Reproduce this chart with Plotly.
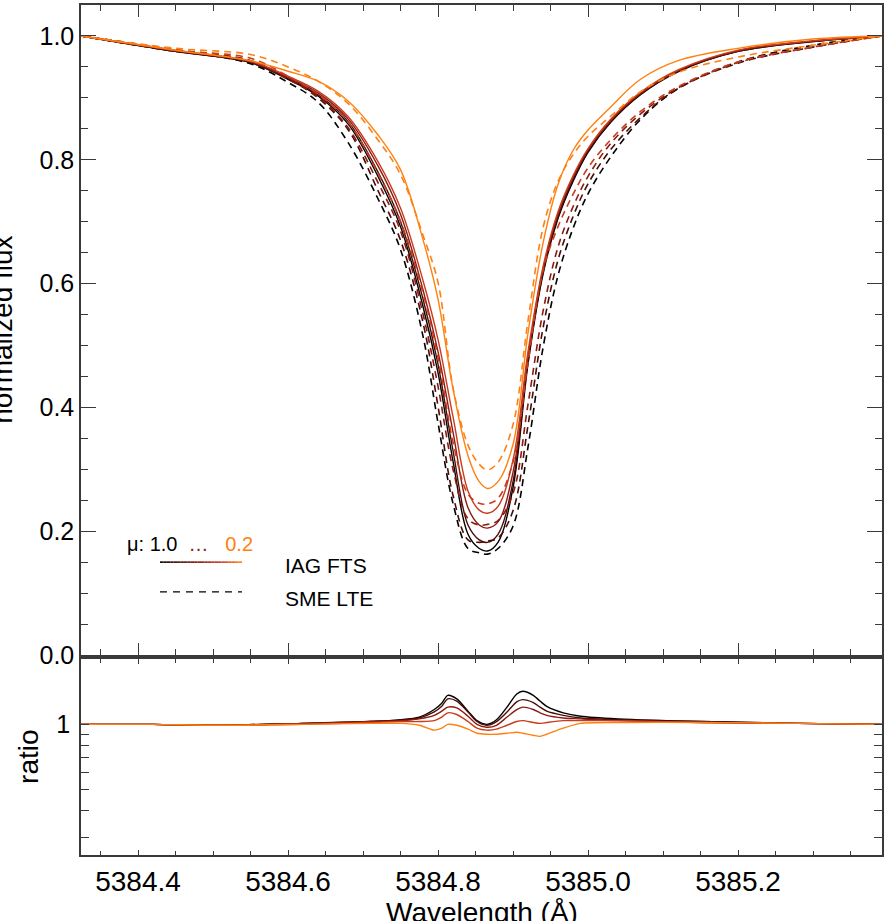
import plotly.graph_objects as go
import math

# ---------------- data ----------------
mu_labels = ["1.0", "0.8", "0.6", "0.4", "0.2"]
mu_colors = ["#000000", "#4c0c08", "#8c1a10", "#c83c1c", "#ff8010"]

wave_flux = [5384.324, 5384.45, 5384.55, 5384.60, 5384.64, 5384.68, 5384.72, 5384.75,
             5384.78, 5384.80, 5384.82, 5384.84, 5384.855, 5384.866, 5384.88, 5384.90,
             5384.92, 5384.94, 5384.96, 5384.98, 5385.00, 5385.03, 5385.07, 5385.12,
             5385.20, 5385.30, 5385.392]

fts_mu10 = [1.000, 0.975, 0.957, 0.930, 0.903, 0.858, 0.773, 0.692, 0.563, 0.456, 0.313, 0.195,
            0.172, 0.168, 0.182, 0.270, 0.470, 0.615, 0.705, 0.765, 0.812, 0.860, 0.905, 0.942,
            0.975, 0.991, 1.000]
fts_mu08 = [1.000, 0.975, 0.957, 0.931, 0.905, 0.862, 0.780, 0.700, 0.575, 0.470, 0.330, 0.210,
            0.186, 0.182, 0.195, 0.280, 0.475, 0.618, 0.708, 0.768, 0.814, 0.861, 0.906, 0.943,
            0.975, 0.991, 1.000]
fts_mu06 = [1.000, 0.976, 0.958, 0.933, 0.908, 0.866, 0.790, 0.712, 0.590, 0.490, 0.360, 0.238,
            0.210, 0.205, 0.215, 0.295, 0.482, 0.622, 0.712, 0.771, 0.816, 0.863, 0.907, 0.944,
            0.976, 0.992, 1.000]
fts_mu04 = [1.000, 0.977, 0.959, 0.935, 0.911, 0.870, 0.797, 0.722, 0.605, 0.510, 0.385, 0.265,
            0.234, 0.229, 0.240, 0.315, 0.490, 0.627, 0.716, 0.774, 0.818, 0.865, 0.909, 0.945,
            0.977, 0.992, 1.000]
fts_mu02 = [1.000, 0.977, 0.960, 0.943, 0.927, 0.895, 0.840, 0.784, 0.671, 0.575, 0.430, 0.322,
            0.280, 0.269, 0.280, 0.340, 0.520, 0.665, 0.760, 0.815, 0.848, 0.885, 0.930, 0.960,
            0.980, 0.995, 1.000]

sme_mu10 = [1.000, 0.977, 0.955, 0.925, 0.893, 0.828, 0.737, 0.655, 0.515, 0.375, 0.245, 0.172,
            0.165, 0.163, 0.172, 0.208, 0.336, 0.496, 0.613, 0.689, 0.745, 0.804, 0.865, 0.915,
            0.958, 0.985, 1.000]
sme_mu08 = [1.000, 0.975, 0.960, 0.931, 0.900, 0.849, 0.750, 0.670, 0.537, 0.402, 0.258, 0.186,
            0.182, 0.184, 0.189, 0.233, 0.371, 0.528, 0.638, 0.708, 0.761, 0.816, 0.868, 0.915,
            0.956, 0.982, 1.000]
sme_mu06 = [1.000, 0.978, 0.960, 0.930, 0.902, 0.852, 0.763, 0.685, 0.551, 0.434, 0.300, 0.220,
            0.210, 0.211, 0.217, 0.261, 0.405, 0.555, 0.659, 0.724, 0.773, 0.826, 0.874, 0.916,
            0.957, 0.982, 1.000]
sme_mu04 = [1.000, 0.977, 0.964, 0.935, 0.906, 0.861, 0.778, 0.701, 0.585, 0.481, 0.344, 0.260,
            0.245, 0.244, 0.253, 0.312, 0.473, 0.621, 0.692, 0.744, 0.787, 0.832, 0.878, 0.918,
            0.958, 0.982, 1.000]
sme_mu02 = [1.000, 0.980, 0.970, 0.950, 0.927, 0.891, 0.832, 0.776, 0.678, 0.602, 0.432, 0.339,
            0.308, 0.299, 0.311, 0.372, 0.540, 0.690, 0.765, 0.808, 0.838, 0.870, 0.910, 0.941,
            0.966, 0.985, 1.000]

wave_ratio = [5384.324, 5384.42, 5384.50, 5384.62, 5384.71, 5384.75, 5384.775, 5384.795,
              5384.805, 5384.813, 5384.825, 5384.84, 5384.852, 5384.865, 5384.878, 5384.892,
              5384.905, 5384.913, 5384.927, 5384.936, 5384.945, 5384.967, 5384.99, 5385.04,
              5385.15, 5385.28, 5385.392]

ratio_mu10 = [1.00, 1.00, 0.99, 1.01, 1.03, 1.05, 1.08, 1.17, 1.25, 1.36, 1.31, 1.15, 1.04, 1.00,
              1.05, 1.20, 1.38, 1.42, 1.36, 1.28, 1.21, 1.13, 1.09, 1.06, 1.03, 1.01, 1.00]
ratio_mu08 = [1.00, 1.00, 0.99, 1.01, 1.03, 1.045, 1.07, 1.14, 1.21, 1.31, 1.28, 1.14, 1.03, 0.99,
              1.03, 1.14, 1.27, 1.30, 1.26, 1.20, 1.15, 1.10, 1.07, 1.05, 1.03, 1.01, 1.00]
ratio_mu06 = [1.00, 1.00, 0.99, 1.01, 1.03, 1.04, 1.06, 1.10, 1.15, 1.20, 1.19, 1.09, 1.00, 0.97,
              0.99, 1.08, 1.17, 1.20, 1.17, 1.13, 1.10, 1.07, 1.06, 1.04, 1.02, 1.01, 1.00]
ratio_mu04 = [1.00, 1.00, 0.99, 1.00, 1.02, 1.03, 1.03, 1.04, 1.08, 1.13, 1.11, 1.03, 0.96, 0.94,
              0.95, 0.99, 1.03, 1.04, 1.02, 1.01, 1.02, 1.04, 1.04, 1.04, 1.02, 1.01, 1.00]
ratio_mu02 = [1.00, 1.00, 0.99, 1.00, 1.01, 1.01, 0.99, 0.94, 0.96, 1.00, 0.99, 0.95, 0.91, 0.90,
              0.90, 0.91, 0.92, 0.91, 0.89, 0.88, 0.90, 0.96, 1.01, 1.02, 1.02, 1.01, 1.00]

fts_all = [fts_mu10, fts_mu08, fts_mu06, fts_mu04, fts_mu02]
sme_all = [sme_mu10, sme_mu08, sme_mu06, sme_mu04, sme_mu02]
ratio_all = [ratio_mu10, ratio_mu08, ratio_mu06, ratio_mu04, ratio_mu02]

x_ticks = [5384.4, 5384.6, 5384.8, 5385.0, 5385.2]
x_tick_text = ["5384.4", "5384.6", "5384.8", "5385.0", "5385.2"]
ratio_tickvals = [0.3, 0.4, 0.5, 0.6, 0.7, 0.8, 0.9, 1.0, 2.0]
ratio_ticktext = ["", "", "", "", "", "", "", "1", ""]

# ---------------- figure ----------------
FONT = "Liberation Sans, Arial, Helvetica, sans-serif"
AX = "#3a3a3a"
fig = go.Figure()

for i in range(5):
    fig.add_trace(go.Scatter(x=wave_flux, y=sme_all[i], mode="lines", xaxis="x", yaxis="y",
                             line=dict(color=mu_colors[i], width=1.6, dash="7px,5px",
                                       shape="spline", smoothing=1.0),
                             showlegend=False, hoverinfo="skip"))
    fig.add_trace(go.Scatter(x=wave_flux, y=fts_all[i], mode="lines", xaxis="x", yaxis="y",
                             line=dict(color=mu_colors[i], width=1.4, shape="spline", smoothing=1.0),
                             showlegend=False, hoverinfo="skip"))

for i in range(5):
    fig.add_trace(go.Scatter(x=wave_ratio, y=ratio_all[i], mode="lines", xaxis="x2", yaxis="y2",
                             line=dict(color=mu_colors[i], width=1.4, shape="spline", smoothing=0.8),
                             showlegend=False, hoverinfo="skip"))

xrange = [5384.324, 5385.392]
common_x = dict(range=xrange, showline=True, linecolor=AX, linewidth=1.5, mirror="ticks",
                showgrid=False, zeroline=False, ticks="inside", tickcolor=AX, tickwidth=1.2,
                tickmode="array", tickvals=x_ticks, ticktext=x_tick_text, automargin=False,
                tickfont=dict(family=FONT, size=28, color="#000"))

fig.update_layout(
    width=886, height=921,
    margin=dict(l=81, r=4, t=5, b=66, autoexpand=False),
    paper_bgcolor="white", plot_bgcolor="white",
    xaxis=dict(common_x, domain=[0, 1], anchor="y", showticklabels=False, ticklen=12,
               minor=dict(dtick=0.05, tick0=5384.4, ticklen=6, ticks="inside", tickcolor=AX,
                          tickwidth=1.2, showgrid=False)),
    yaxis=dict(domain=[0.2353, 1.0], anchor="x", range=[0, 1.05], showline=True, linecolor=AX,
               linewidth=1.5, mirror="ticks", showgrid=False, zeroline=False, ticks="inside",
               tickcolor=AX, tickwidth=1.2, ticklen=15, tick0=0, dtick=0.2, tickformat=".1f",
               automargin=False,
               tickfont=dict(family=FONT, size=25, color="#000"), ticklabelstandoff=0,
               minor=dict(dtick=0.05, tick0=0, ticklen=7, ticks="inside", tickcolor=AX,
                          tickwidth=1.2, showgrid=False)),
    xaxis2=dict(common_x, domain=[0, 1], anchor="y2", showticklabels=True, ticklen=5,
                ticklabelstandoff=1,
                minor=dict(dtick=0.05, tick0=5384.4, ticklen=4, ticks="inside", tickcolor=AX,
                           tickwidth=1.2, showgrid=False)),
    yaxis2=dict(domain=[0, 0.2306], anchor="x2", type="log",
                range=[math.log10(0.25), math.log10(2.0)], showline=True, linecolor=AX,
                linewidth=1.5, mirror="ticks", showgrid=False, zeroline=False, ticks="inside",
                tickcolor=AX, tickwidth=1.2, ticklen=8, tickmode="array",
                tickvals=ratio_tickvals, ticktext=ratio_ticktext, automargin=False,
                tickfont=dict(family=FONT, size=25, color="#000"), ticklabelstandoff=4),
)

# axis titles (partly cut off by the page edge, as in the reference)
fig.add_annotation(text="normalized flux", xref="paper", yref="paper", x=-0.099, y=0.6176,
                   textangle=-90, showarrow=False, xanchor="center", yanchor="middle",
                   font=dict(family=FONT, size=28, color="#000"))
fig.add_annotation(text="ratio", xref="paper", yref="paper", x=-0.065, y=0.1153,
                   textangle=-90, showarrow=False, xanchor="center", yanchor="middle",
                   font=dict(family=FONT, size=28, color="#000"))
fig.add_annotation(text="Wavelength (Å)", xref="paper", yref="paper", x=0.5, y=-0.068,
                   showarrow=False, xanchor="center", yanchor="middle",
                   font=dict(family=FONT, size=28, color="#000"))

# in-plot legend
fig.add_annotation(text=("μ: 1.0  <span style='color:%s'>…</span>   "
                         "<span style='color:%s'>0.2</span>") % (mu_colors[2], mu_colors[4]),
                   xref="x", yref="y", x=5384.383, y=0.179, xanchor="left", yanchor="middle",
                   showarrow=False, font=dict(family=FONT, size=20, color="#000"))
fig.add_annotation(text="IAG FTS", xref="x", yref="y", x=5384.593, y=0.145, xanchor="left",
                   yanchor="middle", showarrow=False, font=dict(family=FONT, size=21, color="#000"))
fig.add_annotation(text="SME LTE", xref="x", yref="y", x=5384.593, y=0.092, xanchor="left",
                   yanchor="middle", showarrow=False, font=dict(family=FONT, size=21, color="#000"))


def hex2rgb(h):
    h = h.lstrip("#")
    return [int(h[k:k + 2], 16) for k in (0, 2, 4)]


# gradient legend line for the IAG FTS sample
x0, x1, ly = 5384.4293, 5384.5387, 0.150
nseg = 24
stops = [hex2rgb(c) for c in mu_colors]
for k in range(nseg):
    t = (k + 0.5) / nseg * (len(stops) - 1)
    j = min(int(t), len(stops) - 2)
    f = t - j
    c = [round(stops[j][m] + (stops[j + 1][m] - stops[j][m]) * f) for m in range(3)]
    xa = x0 + (x1 - x0) * k / nseg
    xb = x0 + (x1 - x0) * (k + 1) / nseg
    fig.add_shape(type="line", xref="x", yref="y", x0=xa, x1=xb, y0=ly, y1=ly,
                  line=dict(color="rgb(%d,%d,%d)" % tuple(c), width=1.6))

fig.add_shape(type="line", xref="x", yref="y", x0=x0, x1=x1, y0=0.102, y1=0.102,
              line=dict(color="#000000", width=1.4, dash="7px,6px"))

fig.write_html("out.html", config={"displayModeBar": False},
               post_script="document.body.style.margin='0';document.body.style.overflow='hidden';")
